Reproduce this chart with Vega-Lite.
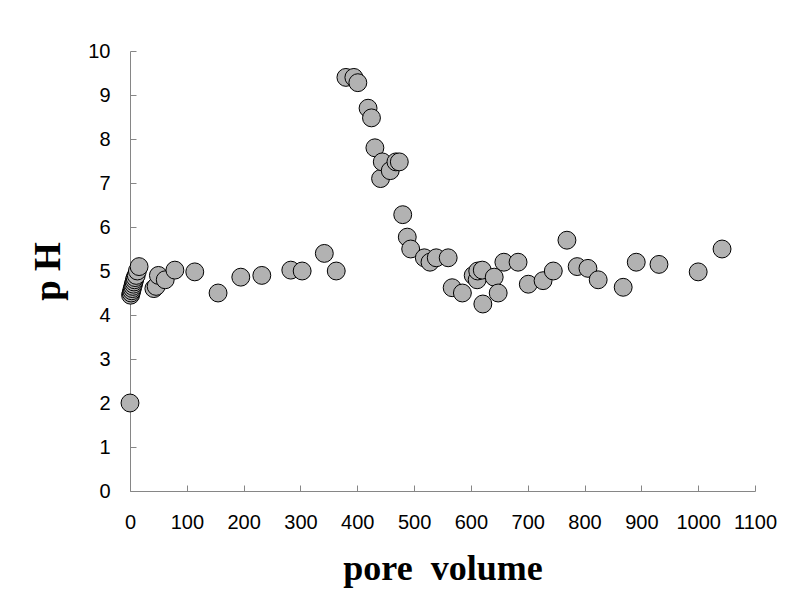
{
  "$schema": "https://vega.github.io/schema/vega-lite/v6.json",
  "width": 625,
  "height": 440,
  "autosize": {"type": "none"},
  "padding": {"left": 130, "top": 51, "right": 38, "bottom": 108},
  "background": "white",
  "config": {"view": {"stroke": null}},
  "data": {"values": [
    {"pv": 0, "ph": 2.0},
    {"pv": 1, "ph": 4.45},
    {"pv": 2, "ph": 4.5},
    {"pv": 3, "ph": 4.55},
    {"pv": 4, "ph": 4.6},
    {"pv": 5, "ph": 4.65},
    {"pv": 6, "ph": 4.7},
    {"pv": 7, "ph": 4.75},
    {"pv": 8, "ph": 4.8},
    {"pv": 9, "ph": 4.85},
    {"pv": 11, "ph": 4.9},
    {"pv": 13, "ph": 5.0},
    {"pv": 16, "ph": 5.1},
    {"pv": 42, "ph": 4.6},
    {"pv": 46, "ph": 4.65},
    {"pv": 50, "ph": 4.9},
    {"pv": 62, "ph": 4.8},
    {"pv": 79, "ph": 5.02},
    {"pv": 114, "ph": 4.98},
    {"pv": 155, "ph": 4.5},
    {"pv": 195, "ph": 4.86},
    {"pv": 232, "ph": 4.9},
    {"pv": 283, "ph": 5.02},
    {"pv": 303, "ph": 5.0},
    {"pv": 342, "ph": 5.4},
    {"pv": 363, "ph": 5.0},
    {"pv": 380, "ph": 9.4},
    {"pv": 394, "ph": 9.4},
    {"pv": 401, "ph": 9.28},
    {"pv": 419, "ph": 8.7},
    {"pv": 425, "ph": 8.48},
    {"pv": 431, "ph": 7.8},
    {"pv": 441, "ph": 7.1},
    {"pv": 444, "ph": 7.48},
    {"pv": 458, "ph": 7.28},
    {"pv": 468, "ph": 7.48},
    {"pv": 474, "ph": 7.48},
    {"pv": 480, "ph": 6.28},
    {"pv": 488, "ph": 5.77},
    {"pv": 494, "ph": 5.5},
    {"pv": 518, "ph": 5.3},
    {"pv": 528, "ph": 5.2},
    {"pv": 539, "ph": 5.3},
    {"pv": 560, "ph": 5.3},
    {"pv": 567, "ph": 4.62},
    {"pv": 585, "ph": 4.5},
    {"pv": 604, "ph": 4.9},
    {"pv": 611, "ph": 4.8},
    {"pv": 612, "ph": 5.0},
    {"pv": 620, "ph": 5.02},
    {"pv": 621, "ph": 4.25},
    {"pv": 641, "ph": 4.86},
    {"pv": 648, "ph": 4.5},
    {"pv": 658, "ph": 5.2},
    {"pv": 683, "ph": 5.2},
    {"pv": 701, "ph": 4.7},
    {"pv": 727, "ph": 4.78},
    {"pv": 745, "ph": 5.0},
    {"pv": 769, "ph": 5.7},
    {"pv": 787, "ph": 5.1},
    {"pv": 806, "ph": 5.06},
    {"pv": 824, "ph": 4.8},
    {"pv": 868, "ph": 4.63},
    {"pv": 891, "ph": 5.2},
    {"pv": 931, "ph": 5.15},
    {"pv": 1000, "ph": 4.98},
    {"pv": 1042, "ph": 5.5}
  ]},
  "mark": {"type": "point", "shape": "circle", "filled": true, "fill": "#b2b2b2", "stroke": "#000000", "strokeWidth": 1, "opacity": 1, "size": 320},
  "encoding": {
    "x": {
      "field": "pv", "type": "quantitative",
      "scale": {"domain": [0, 1100], "nice": false, "zero": true},
      "axis": {
        "title": "pore\u00a0\u00a0volume",
        "values": [0,100,200,300,400,500,600,700,800,900,1000,1100],
        "format": "d",
        "labelOverlap": false,
        "labelFlush": false,
        "grid": false,
        "domainColor": "#868686",
        "tickColor": "#868686",
        "tickSize": -6,
        "labelFont": "Liberation Sans",
        "labelFontSize": 20,
        "labelColor": "#000000",
        "labelPadding": 27,
        "titleFont": "Liberation Serif",
        "titleFontSize": 36,
        "titleFontWeight": "bold",
        "titleColor": "#000000",
        "titlePadding": 19
      }
    },
    "y": {
      "field": "ph", "type": "quantitative",
      "scale": {"domain": [0, 10], "nice": false},
      "axis": {
        "title": "p H",
        "values": [0,1,2,3,4,5,6,7,8,9,10],
        "format": "d",
        "labelOverlap": false,
        "labelFlush": false,
        "grid": false,
        "domainColor": "#868686",
        "tickColor": "#868686",
        "tickSize": -6,
        "labelFont": "Liberation Sans",
        "labelFontSize": 20,
        "labelColor": "#000000",
        "labelPadding": 26,
        "titleFont": "Liberation Serif",
        "titleFontSize": 37,
        "titleFontWeight": "bold",
        "titleColor": "#000000",
        "titlePadding": 20
      }
    }
  }
}
